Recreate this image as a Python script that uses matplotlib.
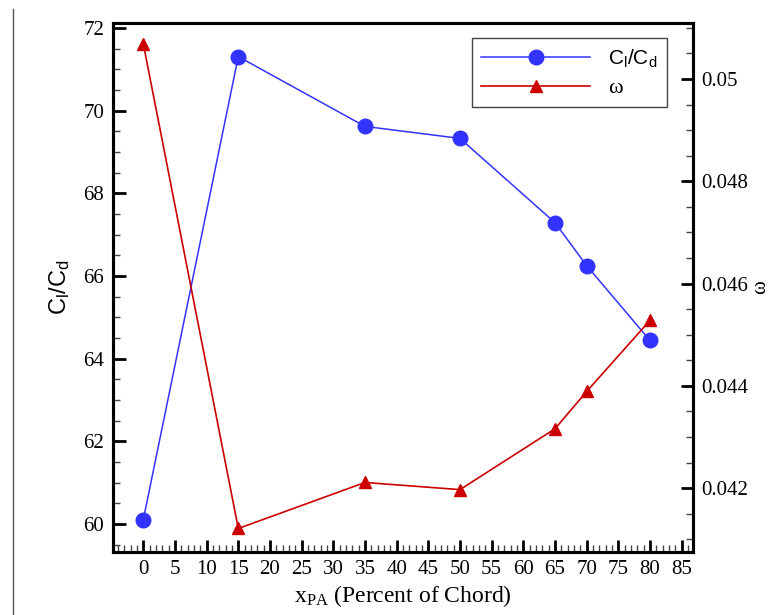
import matplotlib
matplotlib.use("Agg")
import matplotlib.pyplot as plt
from matplotlib.lines import Line2D
from matplotlib.ticker import MultipleLocator

# chord position of the plasma actuator (percent of chord)
x_pa = [0, 15, 35, 50, 65, 70, 80]
# lift to drag ratio
cl_cd = [60.10, 71.31, 69.62, 69.33, 67.29, 66.25, 64.44]
# omega
omega = [0.05069, 0.04121, 0.04211, 0.04197, 0.04316, 0.04389, 0.04528]

x_ticks = list(range(0, 90, 5))

BLUE = "#3333ff"
RED = "#cc0000"
SERIF = "Liberation Serif"
SANS = "Liberation Sans"

fig = plt.figure(figsize=(7.76, 6.15), dpi=100)
ax = fig.add_axes([0.1452, 0.1024, 0.7482, 0.8607])
ax2 = ax.twinx()

l1, = ax.plot(x_pa, cl_cd, color=BLUE, lw=1.1, marker="o", ms=10.5,
              mfc=BLUE, mec=BLUE, label=r"$\mathregular{C_l/C_d}$")
l2, = ax2.plot(x_pa, omega, color=RED, lw=1.2, marker="^", ms=9,
               mfc=RED, mec=RED, label="ω")

ax.set_xlim(-4.83, 86.83)
ax.set_ylim(59.32, 72.13)
ax2.set_ylim(0.04075, 0.0511)

ax.set_xticks(x_ticks)
ax.xaxis.set_minor_locator(MultipleLocator(1))
ax.yaxis.set_major_locator(MultipleLocator(2))
ax.yaxis.set_minor_locator(MultipleLocator(0.5))
ax2.yaxis.set_major_locator(MultipleLocator(0.002))
ax2.yaxis.set_minor_locator(MultipleLocator(0.0005))
ax2.yaxis.set_major_formatter(plt.FuncFormatter(lambda v, p: f"{v:g}"))

for a in (ax, ax2):
    for s in a.spines.values():
        s.set_linewidth(2.2)
    a.tick_params(which="major", direction="in", length=9, width=2.0,
                  labelsize=15, pad=6)
    a.tick_params(which="minor", direction="in", length=5, width=1.0,
                  color="#444444")
    for lab in a.get_xticklabels() + a.get_yticklabels():
        lab.set_fontfamily(SERIF)
ax.tick_params(axis="x", which="both", top=False)
ax.tick_params(axis="y", which="both", right=False)
ax2.tick_params(axis="y", which="both", left=False)

ax.set_xlabel(r"$\mathregular{x_{PA}}$ (Percent of Chord)", fontsize=17,
              fontfamily=SERIF, labelpad=3)
ax.set_ylabel(r"$\mathregular{C_l/C_d}$", fontsize=17, fontfamily=SANS,
              labelpad=8)
ax2.set_ylabel("ω", fontsize=15, fontfamily=SERIF)
ax2.yaxis.set_label_coords(1.1, 0.5)

leg = ax2.legend(handles=[l1, l2], loc="upper right",
                 bbox_to_anchor=(0.9552, 0.9705), borderaxespad=0,
                 fancybox=False, framealpha=1, edgecolor="#444444",
                 handlelength=5.2, handletextpad=0.9, borderpad=0.45,
                 labelspacing=0.4, prop={"family": SANS, "size": 15})
leg.get_frame().set_linewidth(1.0)
leg.get_texts()[1].set_fontfamily(SERIF)
leg.get_texts()[1].set_fontsize(16)

# thin frame line at the left edge of the picture
fig.add_artist(Line2D([0.0164, 0.0164], [0.0, 0.985], transform=fig.transFigure,
                      color="#555555", lw=1.0))

fig.savefig("out.png", dpi=100)
